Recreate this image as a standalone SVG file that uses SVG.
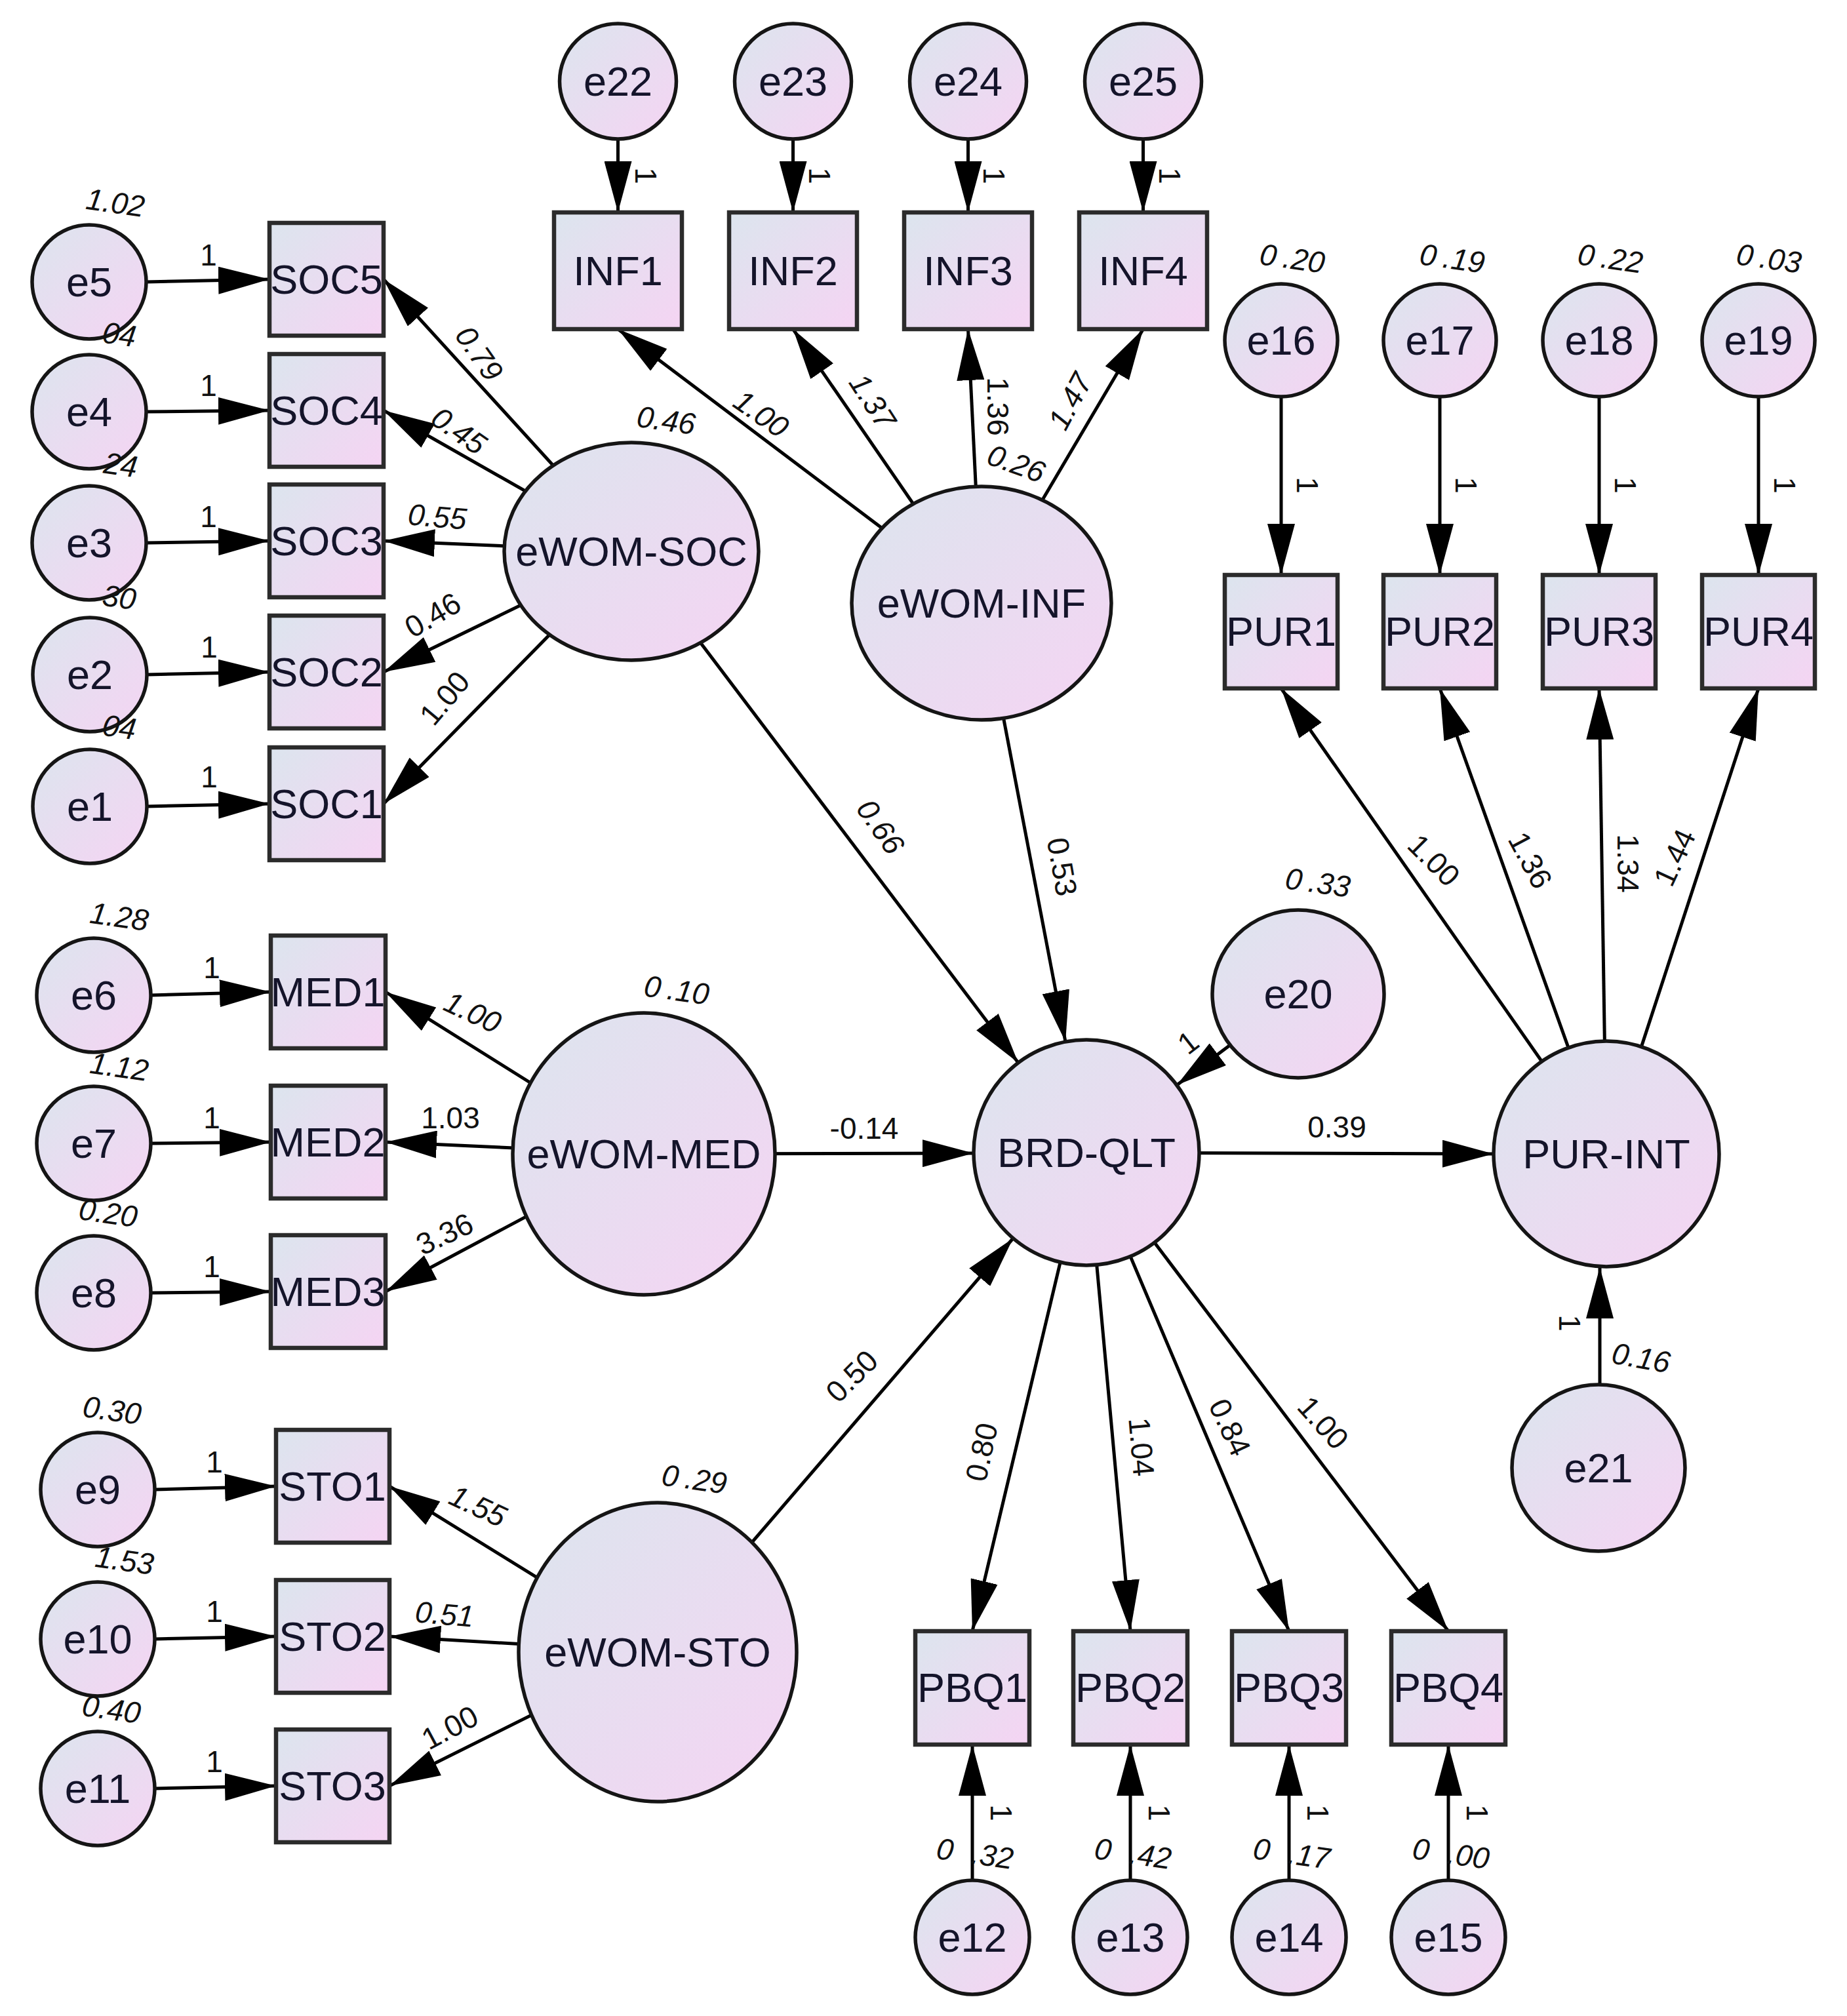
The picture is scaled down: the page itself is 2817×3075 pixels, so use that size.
<svg xmlns="http://www.w3.org/2000/svg" width="2817" height="3075" viewBox="0 0 2817 3075">
<defs>
<linearGradient id="g" x1="0" y1="0" x2="1" y2="1"><stop offset="0" stop-color="#dce5ee"/><stop offset="1" stop-color="#f5d4f3"/></linearGradient>
<marker id="a" markerUnits="userSpaceOnUse" markerWidth="78" markerHeight="42" refX="78" refY="21" orient="auto"><path d="M0,0 L78,21 L0,42 Z" fill="#000"/></marker>
<style>
.lat{fill:url(#g);stroke:#151515;stroke-width:5.5}
.box{fill:url(#g);stroke:#2b2b2b;stroke-width:6.5}
.nt{font-family:"Liberation Sans",Arial,sans-serif;font-size:63px;text-anchor:middle;dominant-baseline:central;fill:#14142a}
.lb{font-family:"Liberation Sans",Arial,sans-serif;font-size:46px;font-style:italic;text-anchor:middle;dominant-baseline:central;fill:#111}
.up{font-style:normal}
#connectors line{stroke:#000;stroke-width:5;marker-end:url(#a)}
</style>
</defs>
<rect width="2817" height="3075" fill="#fff"/>
<g id="connectors">
<line x1="223" y1="430" x2="411" y2="426"/>
<line x1="223" y1="628" x2="411" y2="626"/>
<line x1="223" y1="828" x2="411" y2="825"/>
<line x1="224" y1="1029" x2="411" y2="1025"/>
<line x1="224" y1="1230" x2="411" y2="1226"/>
<line x1="230" y1="1518" x2="413" y2="1513"/>
<line x1="230" y1="1744" x2="413" y2="1742"/>
<line x1="230" y1="1972" x2="413" y2="1970"/>
<line x1="236" y1="2272" x2="421" y2="2267"/>
<line x1="236" y1="2500" x2="421" y2="2496"/>
<line x1="236" y1="2728" x2="421" y2="2724"/>
<line x1="942.5" y1="212" x2="942.5" y2="324"/>
<line x1="1209.5" y1="212" x2="1209.5" y2="324"/>
<line x1="1476.5" y1="212" x2="1476.5" y2="324"/>
<line x1="1743.5" y1="212" x2="1743.5" y2="324"/>
<line x1="1954" y1="605" x2="1954" y2="877"/>
<line x1="2196" y1="605" x2="2196" y2="877"/>
<line x1="2439" y1="605" x2="2439" y2="877"/>
<line x1="2682" y1="605" x2="2682" y2="877"/>
<line x1="1483" y1="2868" x2="1483" y2="2661"/>
<line x1="1724" y1="2868" x2="1724" y2="2661"/>
<line x1="1966" y1="2868" x2="1966" y2="2661"/>
<line x1="2209" y1="2868" x2="2209" y2="2661"/>
<line x1="963" y1="841" x2="585" y2="426"/>
<line x1="963" y1="841" x2="585" y2="626"/>
<line x1="963" y1="841" x2="585" y2="825"/>
<line x1="963" y1="841" x2="585" y2="1025"/>
<line x1="963" y1="841" x2="585" y2="1226"/>
<line x1="1497" y1="920" x2="942.5" y2="502"/>
<line x1="1497" y1="920" x2="1209.5" y2="502"/>
<line x1="1497" y1="920" x2="1476.5" y2="502"/>
<line x1="1497" y1="920" x2="1743.5" y2="502"/>
<line x1="982" y1="1760" x2="588" y2="1513"/>
<line x1="982" y1="1760" x2="588" y2="1742"/>
<line x1="982" y1="1760" x2="588" y2="1970"/>
<line x1="1003" y1="2520" x2="594" y2="2267"/>
<line x1="1003" y1="2520" x2="594" y2="2496"/>
<line x1="1003" y1="2520" x2="594" y2="2724"/>
<line x1="1657" y1="1758" x2="1483" y2="2488"/>
<line x1="1657" y1="1758" x2="1724" y2="2488"/>
<line x1="1657" y1="1758" x2="1966" y2="2488"/>
<line x1="1657" y1="1758" x2="2209" y2="2488"/>
<line x1="2450" y1="1760" x2="1954" y2="1050"/>
<line x1="2450" y1="1760" x2="2196" y2="1050"/>
<line x1="2450" y1="1760" x2="2439" y2="1050"/>
<line x1="2450" y1="1760" x2="2682" y2="1050"/>
<line x1="963" y1="841" x2="1553" y2="1621"/>
<line x1="1497" y1="920" x2="1625" y2="1589"/>
<line x1="982" y1="1760" x2="1485" y2="1759"/>
<line x1="1003" y1="2520" x2="1545" y2="1889"/>
<line x1="1657" y1="1758" x2="2278" y2="1760"/>
<line x1="1980" y1="1516" x2="1795" y2="1655"/>
<line x1="2440" y1="2112" x2="2440" y2="1933"/>
</g>
<g id="e5"><circle class="lat" cx="136" cy="430" r="87"/><text class="nt" x="136" y="430">e5</text></g>
<g id="e4"><circle class="lat" cx="136" cy="628" r="87"/><text class="nt" x="136" y="628">e4</text></g>
<g id="e3"><circle class="lat" cx="136" cy="828" r="87"/><text class="nt" x="136" y="828">e3</text></g>
<g id="e2"><circle class="lat" cx="137" cy="1029" r="87"/><text class="nt" x="137" y="1029">e2</text></g>
<g id="e1"><circle class="lat" cx="137" cy="1230" r="87"/><text class="nt" x="137" y="1230">e1</text></g>
<g id="e6"><circle class="lat" cx="143" cy="1518" r="87"/><text class="nt" x="143" y="1518">e6</text></g>
<g id="e7"><circle class="lat" cx="143" cy="1744" r="87"/><text class="nt" x="143" y="1744">e7</text></g>
<g id="e8"><circle class="lat" cx="143" cy="1972" r="87"/><text class="nt" x="143" y="1972">e8</text></g>
<g id="e9"><circle class="lat" cx="149" cy="2272" r="87"/><text class="nt" x="149" y="2272">e9</text></g>
<g id="e10"><circle class="lat" cx="149" cy="2500" r="87"/><text class="nt" x="149" y="2500">e10</text></g>
<g id="e11"><circle class="lat" cx="149" cy="2728" r="87"/><text class="nt" x="149" y="2728">e11</text></g>
<g id="SOC5"><rect class="box" x="411" y="340" width="174" height="172"/><text class="nt" x="498" y="426">SOC5</text></g>
<g id="SOC4"><rect class="box" x="411" y="540" width="174" height="172"/><text class="nt" x="498" y="626">SOC4</text></g>
<g id="SOC3"><rect class="box" x="411" y="739" width="174" height="172"/><text class="nt" x="498" y="825">SOC3</text></g>
<g id="SOC2"><rect class="box" x="411" y="939" width="174" height="172"/><text class="nt" x="498" y="1025">SOC2</text></g>
<g id="SOC1"><rect class="box" x="411" y="1140" width="174" height="172"/><text class="nt" x="498" y="1226">SOC1</text></g>
<g id="MED1"><rect class="box" x="413" y="1427" width="175" height="172"/><text class="nt" x="500" y="1513">MED1</text></g>
<g id="MED2"><rect class="box" x="413" y="1656" width="175" height="172"/><text class="nt" x="500" y="1742">MED2</text></g>
<g id="MED3"><rect class="box" x="413" y="1884" width="175" height="172"/><text class="nt" x="500" y="1970">MED3</text></g>
<g id="STO1"><rect class="box" x="421" y="2181" width="173" height="172"/><text class="nt" x="507" y="2267">STO1</text></g>
<g id="STO2"><rect class="box" x="421" y="2410" width="173" height="172"/><text class="nt" x="507" y="2496">STO2</text></g>
<g id="STO3"><rect class="box" x="421" y="2638" width="173" height="172"/><text class="nt" x="507" y="2724">STO3</text></g>
<g id="e22"><ellipse class="lat" cx="942.5" cy="124" rx="89" ry="88"/><text class="nt" x="942.5" y="124">e22</text></g>
<g id="e23"><ellipse class="lat" cx="1209.5" cy="124" rx="89" ry="88"/><text class="nt" x="1209.5" y="124">e23</text></g>
<g id="e24"><ellipse class="lat" cx="1476.5" cy="124" rx="89" ry="88"/><text class="nt" x="1476.5" y="124">e24</text></g>
<g id="e25"><ellipse class="lat" cx="1743.5" cy="124" rx="89" ry="88"/><text class="nt" x="1743.5" y="124">e25</text></g>
<g id="INF1"><rect class="box" x="845" y="324" width="195" height="178"/><text class="nt" x="942.5" y="413">INF1</text></g>
<g id="INF2"><rect class="box" x="1112" y="324" width="195" height="178"/><text class="nt" x="1209.5" y="413">INF2</text></g>
<g id="INF3"><rect class="box" x="1379" y="324" width="195" height="178"/><text class="nt" x="1476.5" y="413">INF3</text></g>
<g id="INF4"><rect class="box" x="1646" y="324" width="195" height="178"/><text class="nt" x="1743.5" y="413">INF4</text></g>
<g id="e16"><circle class="lat" cx="1954" cy="519" r="86"/><text class="nt" x="1954" y="519">e16</text></g>
<g id="e17"><circle class="lat" cx="2196" cy="519" r="86"/><text class="nt" x="2196" y="519">e17</text></g>
<g id="e18"><circle class="lat" cx="2439" cy="519" r="86"/><text class="nt" x="2439" y="519">e18</text></g>
<g id="e19"><circle class="lat" cx="2682" cy="519" r="86"/><text class="nt" x="2682" y="519">e19</text></g>
<g id="PUR1"><rect class="box" x="1868" y="877" width="172" height="173"/><text class="nt" x="1954" y="963">PUR1</text></g>
<g id="PUR2"><rect class="box" x="2110" y="877" width="172" height="173"/><text class="nt" x="2196" y="963">PUR2</text></g>
<g id="PUR3"><rect class="box" x="2353" y="877" width="172" height="173"/><text class="nt" x="2439" y="963">PUR3</text></g>
<g id="PUR4"><rect class="box" x="2596" y="877" width="172" height="173"/><text class="nt" x="2682" y="963">PUR4</text></g>
<g id="eWOM-SOC"><ellipse class="lat" cx="963" cy="841" rx="194" ry="166"/><text class="nt" x="963" y="841">eWOM-SOC</text></g>
<g id="eWOM-INF"><ellipse class="lat" cx="1497" cy="920" rx="198" ry="178"/><text class="nt" x="1497" y="920">eWOM-INF</text></g>
<g id="eWOM-MED"><ellipse class="lat" cx="982" cy="1760" rx="200" ry="215"/><text class="nt" x="982" y="1760">eWOM-MED</text></g>
<g id="eWOM-STO"><ellipse class="lat" cx="1003" cy="2520" rx="212" ry="228"/><text class="nt" x="1003" y="2520">eWOM-STO</text></g>
<g id="BRD-QLT"><circle class="lat" cx="1657" cy="1758" r="172"/><text class="nt" x="1657" y="1758">BRD-QLT</text></g>
<g id="PUR-INT"><circle class="lat" cx="2450" cy="1760" r="172"/><text class="nt" x="2450" y="1760">PUR-INT</text></g>
<g id="e20"><ellipse class="lat" cx="1980" cy="1516" rx="131" ry="128"/><text class="nt" x="1980" y="1516">e20</text></g>
<g id="e21"><ellipse class="lat" cx="2438" cy="2239" rx="132" ry="127"/><text class="nt" x="2438" y="2239">e21</text></g>
<g id="PBQ1"><rect class="box" x="1396" y="2488" width="174" height="173"/><text class="nt" x="1483" y="2574">PBQ1</text></g>
<g id="PBQ2"><rect class="box" x="1637" y="2488" width="174" height="173"/><text class="nt" x="1724" y="2574">PBQ2</text></g>
<g id="PBQ3"><rect class="box" x="1879" y="2488" width="174" height="173"/><text class="nt" x="1966" y="2574">PBQ3</text></g>
<g id="PBQ4"><rect class="box" x="2122" y="2488" width="174" height="173"/><text class="nt" x="2209" y="2574">PBQ4</text></g>
<g id="e12"><circle class="lat" cx="1483" cy="2955" r="87"/><text class="nt" x="1483" y="2955">e12</text></g>
<g id="e13"><circle class="lat" cx="1724" cy="2955" r="87"/><text class="nt" x="1724" y="2955">e13</text></g>
<g id="e14"><circle class="lat" cx="1966" cy="2955" r="87"/><text class="nt" x="1966" y="2955">e14</text></g>
<g id="e15"><circle class="lat" cx="2209" cy="2955" r="87"/><text class="nt" x="2209" y="2955">e15</text></g>
<g id="labels">
<text class="lb" x="176" y="309" transform="rotate(8 176 309)">1.02</text>
<text class="lb" x="182" y="510" transform="rotate(8 182 510)">04</text>
<text class="lb" x="184" y="709" transform="rotate(8 184 709)">24</text>
<text class="lb" x="182" y="911" transform="rotate(8 182 911)">30</text>
<text class="lb" x="182" y="1109" transform="rotate(8 182 1109)">04</text>
<text class="lb" x="182" y="1398" transform="rotate(8 182 1398)">1.28</text>
<text class="lb" x="182" y="1627" transform="rotate(8 182 1627)">1.12</text>
<text class="lb" x="165" y="1850" transform="rotate(8 165 1850)">0.20</text>
<text class="lb" x="171" y="2151" transform="rotate(8 171 2151)">0.30</text>
<text class="lb" x="190" y="2380" transform="rotate(8 190 2380)">1.53</text>
<text class="lb" x="170" y="2607" transform="rotate(8 170 2607)">0.40</text>
<text class="lb" x="1016" y="641" transform="rotate(8 1016 641)">0.46</text>
<text class="lb" x="1550" y="707" transform="rotate(20 1550 707)">0.26</text>
<text class="lb" x="1032" y="1510" transform="rotate(8 1032 1510)">0<tspan dx="10">.10</tspan></text>
<text class="lb" x="1059" y="2256" transform="rotate(8 1059 2256)">0<tspan dx="10">.29</tspan></text>
<text class="lb" x="1971" y="394" transform="rotate(8 1971 394)">0<tspan dx="10">.20</tspan></text>
<text class="lb" x="2215" y="394" transform="rotate(8 2215 394)">0<tspan dx="10">.19</tspan></text>
<text class="lb" x="2456" y="394" transform="rotate(8 2456 394)">0<tspan dx="10">.22</tspan></text>
<text class="lb" x="2698" y="394" transform="rotate(8 2698 394)">0<tspan dx="10">.03</tspan></text>
<text class="lb" x="2010" y="1346" transform="rotate(8 2010 1346)">0<tspan dx="10">.33</tspan></text>
<text class="lb" x="2503" y="2071" transform="rotate(10 2503 2071)">0.16</text>
<text class="lb" x="1487" y="2827" transform="rotate(8 1487 2827)">0<tspan dx="28">.32</tspan></text>
<text class="lb" x="1728" y="2827" transform="rotate(8 1728 2827)">0<tspan dx="28">.42</tspan></text>
<text class="lb" x="1970" y="2827" transform="rotate(8 1970 2827)">0<tspan dx="28">.17</tspan></text>
<text class="lb" x="2213" y="2827" transform="rotate(8 2213 2827)">0<tspan dx="28">.00</tspan></text>
<text class="lb" x="731" y="539" transform="rotate(55 731 539)">0.79</text>
<text class="lb" x="700" y="657" transform="rotate(35 700 657)">0.45</text>
<text class="lb" x="667" y="788" transform="rotate(5 667 788)">0.55</text>
<text class="lb up" x="660" y="938" transform="rotate(-30 660 938)">0.46</text>
<text class="lb up" x="678" y="1065" transform="rotate(-50 678 1065)">1.00</text>
<text class="lb" x="1161" y="631" transform="rotate(35 1161 631)">1.00</text>
<text class="lb" x="1331" y="612" transform="rotate(57 1331 612)">1.37</text>
<text class="lb up" x="1522" y="620" transform="rotate(90 1522 620)">1.36</text>
<text class="lb" x="1632" y="612" transform="rotate(-62 1632 612)">1.47</text>
<text class="lb" x="1343" y="1261" transform="rotate(55 1343 1261)">0.66</text>
<text class="lb up" x="1620" y="1322" transform="rotate(80 1620 1322)">0.53</text>
<text class="lb" x="721" y="1544" transform="rotate(25 721 1544)">1.00</text>
<text class="lb up" x="687" y="1705">1.03</text>
<text class="lb up" x="678" y="1882" transform="rotate(-25 678 1882)">3.36</text>
<text class="lb up" x="1318" y="1721">-0.14</text>
<text class="lb up" x="2039" y="1719">0.39</text>
<text class="lb up" x="1299" y="2099" transform="rotate(-45 1299 2099)">0.50</text>
<text class="lb" x="729" y="2297" transform="rotate(25 729 2297)">1.55</text>
<text class="lb" x="678" y="2462" transform="rotate(5 678 2462)">0.51</text>
<text class="lb up" x="686" y="2635" transform="rotate(-28 686 2635)">1.00</text>
<text class="lb up" x="1497" y="2215" transform="rotate(-78 1497 2215)">0.80</text>
<text class="lb up" x="1741" y="2207" transform="rotate(85 1741 2207)">1.04</text>
<text class="lb up" x="1876" y="2177" transform="rotate(65 1876 2177)">0.84</text>
<text class="lb up" x="2018" y="2170" transform="rotate(48 2018 2170)">1.00</text>
<text class="lb up" x="2187" y="1312" transform="rotate(45 2187 1312)">1.00</text>
<text class="lb up" x="2334" y="1312" transform="rotate(62 2334 1312)">1.36</text>
<text class="lb up" x="2483" y="1317" transform="rotate(90 2483 1317)">1.34</text>
<text class="lb up" x="2554" y="1308" transform="rotate(-65 2554 1308)">1.44</text>
<text class="lb up" x="318" y="389">1</text>
<text class="lb up" x="318" y="588">1</text>
<text class="lb up" x="318" y="788">1</text>
<text class="lb up" x="319" y="987">1</text>
<text class="lb up" x="319" y="1185">1</text>
<text class="lb up" x="323" y="1476">1</text>
<text class="lb up" x="323" y="1705">1</text>
<text class="lb up" x="323" y="1932">1</text>
<text class="lb up" x="327" y="2230">1</text>
<text class="lb up" x="327" y="2458">1</text>
<text class="lb up" x="327" y="2687">1</text>
<text class="lb up" x="985" y="268" transform="rotate(90 985 268)">1</text>
<text class="lb up" x="1250" y="268" transform="rotate(90 1250 268)">1</text>
<text class="lb up" x="1516" y="268" transform="rotate(90 1516 268)">1</text>
<text class="lb up" x="1784" y="268" transform="rotate(90 1784 268)">1</text>
<text class="lb up" x="1994" y="740" transform="rotate(90 1994 740)">1</text>
<text class="lb up" x="2236" y="740" transform="rotate(90 2236 740)">1</text>
<text class="lb up" x="2479" y="740" transform="rotate(90 2479 740)">1</text>
<text class="lb up" x="2722" y="740" transform="rotate(90 2722 740)">1</text>
<text class="lb up" x="1527" y="2765" transform="rotate(90 1527 2765)">1</text>
<text class="lb up" x="1768" y="2765" transform="rotate(90 1768 2765)">1</text>
<text class="lb up" x="2010" y="2765" transform="rotate(90 2010 2765)">1</text>
<text class="lb up" x="2253" y="2765" transform="rotate(90 2253 2765)">1</text>
<text class="lb up" x="2394" y="2018" transform="rotate(90 2394 2018)">1</text>
<text class="lb up" x="1812" y="1590" transform="rotate(-38 1812 1590)">1</text>
</g>
</svg>
